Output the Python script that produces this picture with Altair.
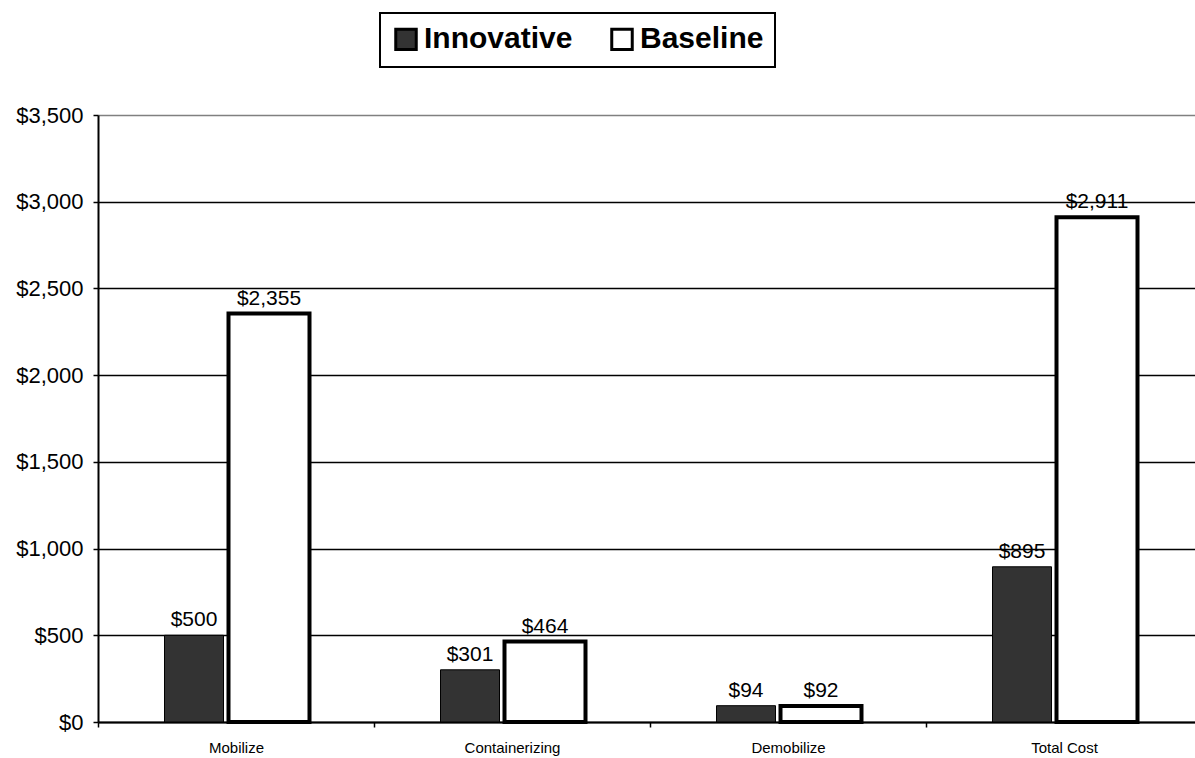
import altair as alt
import pandas as pd

categories = ["Mobilize", "Containerizing", "Demobilize", "Total Cost"]
series_names = ["Innovative", "Baseline"]
innovative = [500, 301, 94, 895]
baseline = [2355, 464, 92, 2911]

rows = []
for c, v in zip(categories, innovative):
    rows.append({"category": c, "series": "Innovative", "value": v})
for c, v in zip(categories, baseline):
    rows.append({"category": c, "series": "Baseline", "value": v})
df = pd.DataFrame(rows)

FONT = "Arial, Liberation Sans, sans-serif"

x_enc = alt.X(
    "category:N",
    sort=categories,
    scale=alt.Scale(range=[0, 1104], paddingInner=0, paddingOuter=0),
    axis=alt.Axis(
        title=None, labelAngle=0, labelFontSize=15, labelFont=FONT, labelColor="black",
        labelPadding=13, tickBand="extent", tickSize=5, tickColor="black", tickWidth=1.5,
        domainColor="black", domainWidth=2, grid=False,
    ),
)
y_enc = alt.Y(
    "value:Q",
    scale=alt.Scale(domain=[0, 3500], nice=False),
    axis=alt.Axis(
        title=None, values=[0, 500, 1000, 1500, 2000, 2500, 3000, 3500], format="$,.0f",
        labelFontSize=22, labelFont=FONT, labelColor="black", labelPadding=10,
        tickSize=5, tickColor="black", tickWidth=1.5, domainColor="black", domainWidth=2,
        grid=True,
        gridColor={"condition": {"test": "datum.value === 3500", "value": "#808080"}, "value": "black"},
        gridWidth=1.5, gridOpacity=1,
    ),
)
fill_enc = alt.Fill(
    "series:N",
    scale=alt.Scale(domain=series_names, range=["#333333", "#ffffff"]),
    legend=alt.Legend(
        title=None, orient="none", direction="horizontal", legendX=282, legendY=-102,
        symbolType="square", symbolSize=420, symbolStrokeColor="black", symbolStrokeWidth=3,
        labelFontSize=30, labelFontWeight="bold", labelFont=FONT, labelColor="black",
        labelOffset=3, labelLimit=400, columnPadding=32, padding=11,
        strokeColor="black",
    ),
)

base = alt.Chart(df)

innov_bars = base.transform_filter(alt.datum.series == "Innovative").mark_bar(
    width=59, xOffset=-42, stroke="black", strokeWidth=1
).encode(x=x_enc, y=y_enc, fill=fill_enc)

base_bars = base.transform_filter(alt.datum.series == "Baseline").mark_bar(
    width=81, xOffset=33, stroke="black", strokeWidth=4
).encode(x=x_enc, y=y_enc, fill=fill_enc)

innov_text = base.transform_filter(alt.datum.series == "Innovative").mark_text(
    dx=-42, dy=-5, baseline="bottom", fontSize=21, font=FONT, color="black"
).encode(x=x_enc, y=y_enc, text=alt.Text("value:Q", format="$,.0f"))

base_text = base.transform_filter(alt.datum.series == "Baseline").mark_text(
    dx=33, dy=-5, baseline="bottom", fontSize=21, font=FONT, color="black"
).encode(x=x_enc, y=y_enc, text=alt.Text("value:Q", format="$,.0f"))

chart = alt.layer(innov_bars, base_bars, innov_text, base_text).properties(
    width=1097, height=607,
    autosize=alt.AutoSizeParams(type="none"),
    padding={"left": 98, "top": 115, "right": 0, "bottom": 36},
    background="white",
).configure_view(strokeWidth=0).configure_legend(strokeWidth=2)

chart.save("out.html", embed_options={"renderer": "svg", "actions": False})
